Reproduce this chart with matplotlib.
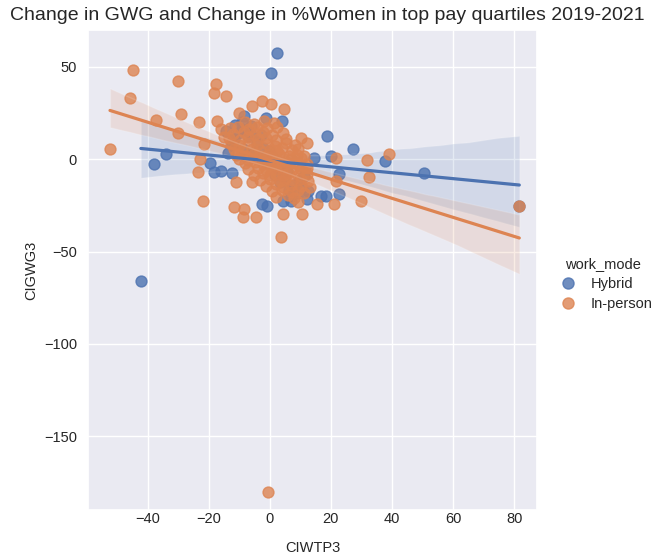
import numpy as np
import pandas as pd
import seaborn as sns
from matplotlib import pyplot as plt
from matplotlib.lines import Line2D

# change in % women in top pay quartile (x) vs change in gender wage gap (y)
hybrid_x = [2.5, 0.3, -8.4, -1.3, 4.1, -11.7, -34.0, -37.9, -42.2, -19.7,
            -18.3, -16.0, -12.2, -2.4, -0.8, 4.2, 6.9, 18.8, 27.3, 37.7,
            50.4, 22.7, 16.7, 18.3, 22.6, 20.0, 14.5, 12.3, 81.7,
            -10.5, -9.0, -7.2, -12.5, -6.1, -4.3, -8.7, -3.0, -5.5, -2.1,
            0.8, -1.0, 2.5, 4.8, 7.9, 9.6, 6.2, 8.8, 11.2, 3.5,
            5.6, 10.4, 1.7, -0.4, -11.3, 12.6, -13.8, 7.1,
            -14.2, -9.1, -6.3, -12.0]
hybrid_y = [57.5, 46.8, 23.4, 22.5, 20.7, 10.8, 3.1, -2.7, -66.2, -1.8,
            -6.8, -6.3, -7.2, -24.3, -25.2, -22.5, -22.5, 12.6, 5.8, -0.9,
            -7.6, -18.9, -19.8, -20.1, -8.1, 1.8, 0.9, -21.6, -25.2,
            14.2, 16.5, 12.8, 7.9, 17.8, 9.6, 5.4, 13.1, 3.2, 6.0,
            1.5, -2.2, -4.8, -9.5, -13.7, -11.8, -16.4, -18.1, -9.3, -12.2,
            -6.8, -15.6, -8.4, 4.4, 18.6, -17.2, 3.5, -20.1,
            15.1, 20.2, 14.3, 10.2]

inperson_x = [-44.7, -30.0, -45.6, -37.4, -28.9, -23.2, -30.0, -21.6, -52.3, -22.9,
              -23.4, -21.8, -18.3, -17.7, -17.3, -14.4, -2.4, 0.3, -5.7, 4.7,
              -10.0, -16.0, 10.1, -11.1, -5.7, -11.7, -8.4, -8.9, -4.6, 4.2,
              10.7, 3.6, 31.9, 39.0, 32.5, 30.0, 15.6, 21.0, 21.6, 21.6,
              12.3, 81.7, -0.5,
              -8.2, -5.1, -1.8, 1.3,
              -10.3, -6.8, -4.2, -0.9, 2.4,
              -12.1, -8.3, -4.8, -2.2, 0.9, 4.3,
              -13.2, -9.7, -7.1, -3.8, -1.2, 2.1, 5.4,
              -12.8, -10.2, -6.9, -4.1, -0.8, 1.8, 5.2, 8.3,
              -11.8, -9.2, -5.8, -3.1, 0.2, 2.3, 4.1, 7.2, 9.3,
              -11.2, -7.8, -5.1, -2.3, -0.2, 1.2, 3.1, 6.2, 8.8, 11.3,
              -10.1, -7.2, -4.2, -2.1, -0.9, 0.1, 1.1, 2.2, 4.3, 7.1, 10.2,
              -8.1, -4.9, -2.2, 0.3, 1.2, 3.1, 4.2, 6.3, 9.1, 12.1,
              -7.2, -3.9, -1.1, 0.8, 2.2, 4.1, 7.2, 10.1, 12.3,
              -5.2, -2.1, 0.2, 2.1, 4.2, 6.1, 9.2, 12.2,
              -3.1, 0.1, 3.2, 5.1, 7.2, 10.1, 12.4,
              -1.2, 2.1, 4.2, 7.1, 10.2,
              0.9, 4.1, 7.2, 9.1,
              2.2, 6.1,
              8.0, 11.2, 13.1, -13.0, -15.1, 9.2]
inperson_y = [48.2, 42.2, 33.3, 21.2, 24.3, 20.1, 14.0, 8.1, 5.8, 0.0,
              -6.8, -22.8, 36.0, 40.5, 20.7, 34.1, 31.5, 29.7, 28.8, 27.0,
              25.2, 16.2, 11.7, -12.6, -12.6, -26.0, -27.0, -31.5, -31.5, -29.7,
              -29.7, -42.2, -0.4, 2.7, -9.5, -22.5, -24.3, -24.3, -11.7, 0.9,
              9.0, -25.2, -180.0,
              20.4, 19.3, 20.8, 19.6,
              17.2, 16.4, 17.7, 16.8, 17.3,
              13.6, 14.5, 13.8, 14.9, 13.3, 14.2,
              11.4, 10.6, 11.8, 10.9, 11.5, 10.3, 11.1,
              8.3, 7.6, 8.8, 7.9, 8.4, 7.4, 8.6, 7.7,
              5.3, 4.6, 5.7, 4.8, 5.2, 4.4, 5.9, 4.9, 5.4,
              2.4, 1.7, 2.6, 1.8, 2.3, 1.6, 2.7, 1.9, 2.2, 1.5,
              0.3, -0.4, 0.6, -0.2, 0.4, -0.6, 0.2, -0.3, 0.5, -0.1, 0.4,
              -2.3, -1.7, -2.6, -1.8, -2.4, -1.6, -2.7, -2.1, -1.9, -2.5,
              -5.4, -4.7, -5.6, -4.8, -5.3, -4.6, -5.7, -5.1, -4.9,
              -8.3, -7.6, -8.7, -7.8, -8.4, -7.5, -8.6, -8.1,
              -11.4, -10.6, -11.8, -10.9, -11.3, -10.7, -11.6,
              -14.3, -13.6, -14.8, -13.9, -14.4,
              -17.2, -16.5, -17.6, -16.9,
              -20.3, -19.6,
              -21.0, -18.1, -15.2, 17.1, 12.2, -23.0]

modes = ['Hybrid', 'In-person']

df = pd.concat([
    pd.DataFrame({'CIWTP3': hybrid_x, 'CIGWG3': hybrid_y, 'work_mode': modes[0]}),
    pd.DataFrame({'CIWTP3': inperson_x, 'CIGWG3': inperson_y, 'work_mode': modes[1]}),
])

sns.set_theme(style='darkgrid')
plt.rcParams['font.family'] = ['Liberation Sans', 'DejaVu Sans']

colors = sns.color_palette('deep')[:2]

fig = plt.figure(figsize=(6.55, 5.56), dpi=100)
ax = fig.add_axes([88/655, 46/556, 449/655, 480/556])

for mode, c in zip(modes, colors):
    sub = df[df['work_mode'] == mode]
    sns.regplot(data=sub, x='CIWTP3', y='CIGWG3', ax=ax, color=c, seed=0,
                scatter_kws={'s': 62}, line_kws={'lw': 2.3})

ax.set_xlim(-59.5, 87.5)
ax.set_ylim(-190, 70)
ax.set_xticks([-40, -20, 0, 20, 40, 60, 80])
ax.set_yticks([-150, -100, -50, 0, 50])
ax.tick_params(labelsize=10.5, length=0)
ax.tick_params(axis='x', pad=1.5)
ax.tick_params(axis='y', pad=8)
ax.set_xlabel('CIWTP3', fontsize=10.5, labelpad=11)
ax.set_ylabel('CIGWG3', fontsize=10.5)

handles = [Line2D([], [], ls='', marker='o', ms=8, color=c, alpha=0.8) for c in colors]
fig.legend(handles, modes, title='work_mode', loc='center left',
           bbox_to_anchor=(540/655, 1 - 284/556), frameon=False,
           fontsize=10.5, title_fontsize=10.5, handletextpad=0.6,
           labelspacing=0.4)

fig.text(0.5, 1 - 15/556, 'Change in GWG and Change in %Women in top pay quartiles 2019-2021',
         ha='center', va='center', fontsize=14)

fig.savefig('out.png', dpi=100)
